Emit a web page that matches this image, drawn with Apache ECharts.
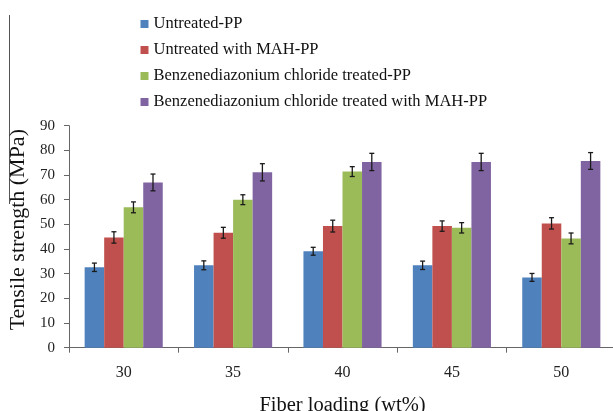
<!DOCTYPE html>
<html>
<head>
<meta charset="utf-8">
<script src="https://cdn.jsdelivr.net/npm/echarts@6/dist/echarts.min.js"></script>
<style>html,body{margin:0;padding:0;background:#fff}#c{width:613px;height:411px}</style>
</head>
<body>
<div id="c"></div>
<script>
const categories = ['30', '35', '40', '45', '50'];
const seriesNames = [
  'Untreated-PP',
  'Untreated with MAH-PP',
  'Benzenediazonium chloride treated-PP',
  'Benzenediazonium chloride treated with MAH-PP'
];
const untreatedPP = [32.6, 33.4, 39.1, 33.4, 28.5];
const untreatedMAH = [44.7, 46.6, 49.3, 49.3, 50.4];
const bdcPP = [56.9, 60.0, 71.4, 48.6, 44.3];
const bdcMAH = [67.0, 71.1, 75.3, 75.3, 75.7];
const errUntreatedPP = [1.7, 1.8, 1.6, 1.7, 1.6];
const errUntreatedMAH = [2.3, 2.2, 2.4, 2.1, 2.3];
const errBdcPP = [2.2, 2.0, 2.0, 2.1, 2.2];
const errBdcMAH = [3.4, 3.5, 3.5, 3.5, 3.4];
const yTicks = { min: 0, max: 90, interval: 10 };

const values = [untreatedPP, untreatedMAH, bdcPP, bdcMAH];
const errors = [errUntreatedPP, errUntreatedMAH, errBdcPP, errBdcMAH];
const colors = ['#4F81BD', '#C0504D', '#9BBB59', '#8064A2'];
const gapRatio = 0.286;
const font = 'Liberation Serif';

const series = [];
values.forEach((vals, k) => {
  series.push({
    name: seriesNames[k],
    type: 'bar',
    data: vals,
    barGap: '0%',
    barCategoryGap: (gapRatio * 100) + '%',
    itemStyle: { color: colors[k] },
    z: 2
  });
});
values.forEach((vals, k) => {
  series.push({
    type: 'custom',
    name: 'err' + k,
    z: 5,
    encode: { x: 0, y: 1 },
    data: vals.map((v, i) => [i, v, errors[k][i]]),
    renderItem: function (params, api) {
      const ci = api.value(0), v = api.value(1), e = api.value(2);
      const band = api.size([1, 0])[0];
      const bw = band * (1 - gapRatio) / 4;
      const x = api.coord([ci, v])[0] + (k - 1.5) * bw;
      const top = api.coord([ci, v + e])[1];
      const bot = api.coord([ci, v - e])[1];
      const cap = 2.5;
      const st = { stroke: '#1a1a1a', lineWidth: 1.3 };
      return {
        type: 'group',
        children: [
          { type: 'line', shape: { x1: x, y1: top, x2: x, y2: bot }, style: st },
          { type: 'line', shape: { x1: x - cap, y1: top, x2: x + cap, y2: top }, style: st },
          { type: 'line', shape: { x1: x - cap, y1: bot, x2: x + cap, y2: bot }, style: st }
        ]
      };
    }
  });
});

const chart = echarts.init(document.getElementById('c'), null, { renderer: 'canvas' });
chart.setOption({
  animation: false,
  backgroundColor: '#fff',
  grid: { left: 69, top: 125.7, width: 547, bottom: 63.3, containLabel: false, outerBoundsMode: 'none' },
  legend: {
    data: seriesNames,
    orient: 'vertical',
    left: 140.5,
    top: 15.5,
    padding: 0,
    itemWidth: 8,
    itemHeight: 8,
    itemGap: 9,
    itemTextGap: 4,
    icon: 'rect',
    selectedMode: false,
    textStyle: { fontFamily: font, fontSize: 16.5, color: '#111' }
  },
  xAxis: {
    type: 'category',
    data: categories,
    name: 'Fiber loading (wt%)',
    nameLocation: 'middle',
    nameGap: 47,
    nameTextStyle: { fontFamily: font, fontSize: 20.5, color: '#111' },
    axisLine: { lineStyle: { color: '#666', width: 1 } },
    axisTick: { show: true, length: 5, lineStyle: { color: '#666' } },
    axisLabel: { fontFamily: font, fontSize: 16, color: '#222', margin: 17 }
  },
  yAxis: {
    type: 'value',
    min: yTicks.min,
    max: yTicks.max,
    interval: yTicks.interval,
    name: 'Tensile strength (MPa)',
    nameLocation: 'middle',
    nameGap: 39,
    nameTextStyle: { fontFamily: font, fontSize: 22, color: '#111', padding: [0, 0, 0, 14] },
    axisLine: { show: true, lineStyle: { color: '#666', width: 1 } },
    axisTick: { show: true, length: 5, lineStyle: { color: '#666' } },
    axisLabel: { fontFamily: font, fontSize: 15, color: '#222', margin: 14 },
    splitLine: { show: false }
  },
  graphic: [
    { type: 'line', shape: { x1: 9.5, y1: 15, x2: 9.5, y2: 204 }, style: { stroke: '#555', lineWidth: 1 } }
  ],
  series: series
});
</script>
</body>
</html>
